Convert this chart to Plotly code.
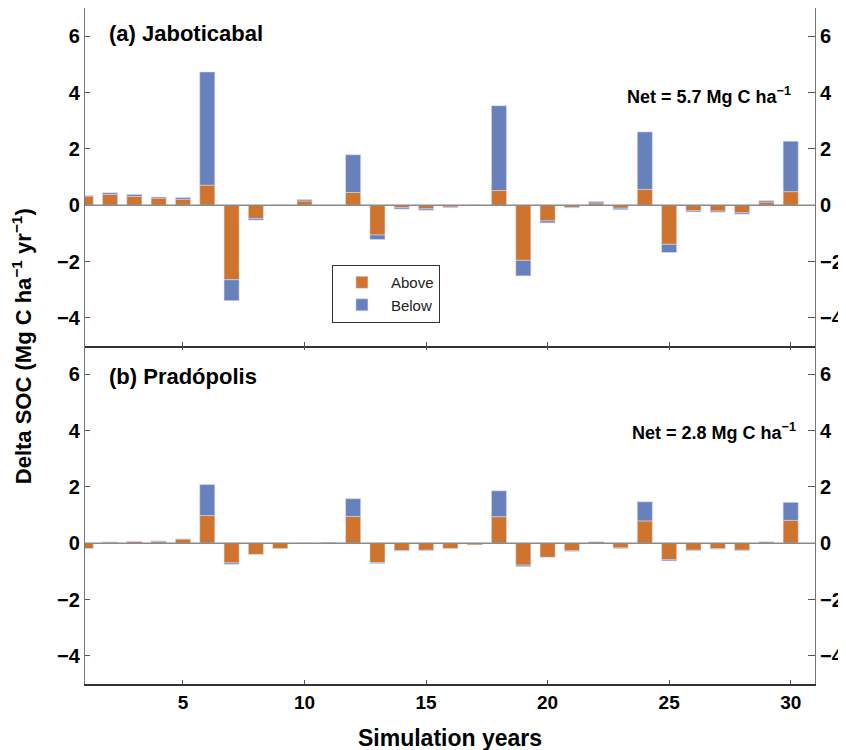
import plotly.graph_objects as go

years = list(range(1, 31))

# Panel (a) Jaboticabal
above_a = [0.32, 0.38, 0.31, 0.25, 0.21, 0.71, -2.65, -0.47, -0.02, 0.15,
           -0.03, 0.45, -1.06, -0.09, -0.13, -0.07, 0.0, 0.52, -1.96, -0.56,
           -0.08, 0.08, -0.11, 0.56, -1.39, -0.20, -0.21, -0.27, 0.11, 0.48]
below_a = [0.02, 0.06, 0.07, 0.04, 0.06, 4.02, -0.74, -0.06, 0.0, 0.05,
           0.0, 1.34, -0.16, -0.05, -0.05, -0.02, 0.0, 3.01, -0.55, -0.07,
           -0.02, 0.05, -0.05, 2.04, -0.29, -0.04, -0.04, -0.05, 0.05, 1.79]

# Panel (b) Pradópolis
above_b = [-0.19, 0.04, 0.06, 0.07, 0.15, 0.98, -0.70, -0.40, -0.19, 0.0,
           0.0, 0.95, -0.69, -0.26, -0.25, -0.19, -0.06, 0.94, -0.78, -0.50,
           -0.27, 0.05, -0.17, 0.79, -0.59, -0.25, -0.20, -0.25, 0.05, 0.81]
below_b = [-0.01, 0.0, 0.01, 0.01, 0.0, 1.10, -0.05, -0.01, 0.0, 0.0,
           0.02, 0.63, -0.03, -0.02, -0.02, 0.0, 0.0, 0.92, -0.05, 0.0,
           -0.02, 0.0, -0.02, 0.68, -0.04, -0.02, -0.01, -0.02, 0.0, 0.64]

ytick_vals = [-4, -2, 0, 2, 4, 6]
xtick_vals = [5, 10, 15, 20, 25, 30]

ORANGE = "#CF742E"
BLUE = "#6880BC"
FONT = "Liberation Sans, Arial, sans-serif"
EDGE = dict(color="rgba(215,225,245,0.9)", width=0.6)

fig = go.Figure()
fig.add_trace(go.Bar(x=years, y=above_a, name="Above", marker=dict(color=ORANGE, line=EDGE),
                     xaxis="x", yaxis="y", legendgroup="a"))
fig.add_trace(go.Bar(x=years, y=below_a, name="Below", marker=dict(color=BLUE, line=EDGE),
                     xaxis="x", yaxis="y", legendgroup="b"))
fig.add_trace(go.Bar(x=years, y=above_b, name="Above", marker=dict(color=ORANGE, line=EDGE),
                     xaxis="x2", yaxis="y2", showlegend=False, legendgroup="a"))
fig.add_trace(go.Bar(x=years, y=below_b, name="Below", marker=dict(color=BLUE, line=EDGE),
                     xaxis="x2", yaxis="y2", showlegend=False, legendgroup="b"))
# empty traces to activate the right-hand axes and the top ticks of panel (b)
fig.add_trace(go.Scatter(x=[], y=[], xaxis="x", yaxis="y3", showlegend=False, hoverinfo="skip"))
fig.add_trace(go.Scatter(x=[], y=[], xaxis="x2", yaxis="y4", showlegend=False, hoverinfo="skip"))
fig.add_trace(go.Scatter(x=[], y=[], xaxis="x3", yaxis="y2", showlegend=False, hoverinfo="skip"))

tickfont = dict(family=FONT, size=20, color="black", weight="bold")
split = 0.5

yax_common = dict(range=[-5, 7], tickvals=ytick_vals, ticks="inside",
                  tickcolor="#555", showline=True, linecolor="#777", linewidth=1.2,
                  showgrid=False, tickfont=tickfont, zeroline=False)
xax_common = dict(range=[0.97, 31.0], tickvals=xtick_vals, ticks="inside", ticklen=4,
                  tickcolor="#555", linecolor="#333", linewidth=1.5,
                  showgrid=False, zeroline=False)

# the page body adds an 8px offset, so the figure is 8px smaller on each axis
fig.update_layout(
    width=838, height=742,
    margin=dict(l=77, r=31, t=0, b=66, autoexpand=False),
    paper_bgcolor="white", plot_bgcolor="white",
    barmode="relative", bargap=0.38,
    font=dict(family=FONT, color="black"),
    xaxis=dict(**xax_common, domain=[0, 1], anchor="y", showticklabels=False,
               showline=True, mirror=True),
    xaxis2=dict(**xax_common, domain=[0, 1], anchor="y2", showline=True, mirror=False,
                tickfont=dict(family=FONT, size=19, color="black", weight="bold")),
    xaxis3=dict(**xax_common, domain=[0, 1], anchor="y2", overlaying="x2", side="top",
                showline=False, showticklabels=False),
    yaxis=dict(**yax_common, domain=[split, 1], anchor="x", ticklen=5),
    yaxis2=dict(**yax_common, domain=[0, split], anchor="x2", ticklen=5),
    yaxis3=dict(**yax_common, domain=[split, 1], anchor="x", overlaying="y", side="right", ticklen=7),
    yaxis4=dict(**yax_common, domain=[0, split], anchor="x2", overlaying="y2", side="right", ticklen=7),
    legend=dict(x=0.338, y=0.62, xanchor="left", yanchor="top", traceorder="normal",
                bgcolor="white", bordercolor="#333", borderwidth=1.2, itemwidth=48,
                font=dict(family=FONT, size=15, color="#222")),
    showlegend=True,
)

# zero lines
for yref, xref in [("y", "x"), ("y2", "x2")]:
    fig.add_shape(type="line", xref=f"{xref} domain", yref=yref, x0=0, x1=1, y0=0, y1=0,
                  line=dict(color="#8a8a8a", width=1.5), layer="above")

ann_font_big = dict(family=FONT, size=22, color="black", weight="bold")
ann_font_net = dict(family=FONT, size=18, color="black", weight="bold")
ann_font_title = dict(family=FONT, size=22, color="black", weight="bold")
fig.add_annotation(text="(a) Jaboticabal", xref="x domain", yref="y", x=0.03, y=6.1,
                   xanchor="left", yanchor="middle", showarrow=False, font=ann_font_big)
fig.add_annotation(text="(b) Pradópolis", xref="x2 domain", yref="y2", x=0.03, y=5.9,
                   xanchor="left", yanchor="middle", showarrow=False, font=ann_font_big)
fig.add_annotation(text="Net = 5.7 Mg C ha<sup>−1</sup>", xref="x domain", yref="y", x=0.97, y=3.9,
                   xanchor="right", yanchor="middle", showarrow=False, font=ann_font_net)
fig.add_annotation(text="Net = 2.8 Mg C ha<sup>−1</sup>", xref="x2 domain", yref="y2", x=0.977, y=3.97,
                   xanchor="right", yanchor="middle", showarrow=False, font=ann_font_net)
fig.add_annotation(text="Delta SOC (Mg C ha<sup>−1</sup> yr<sup>−1</sup>)", xref="paper", yref="paper",
                   x=-0.086, y=0.5, xanchor="center", yanchor="middle", textangle=-90,
                   showarrow=False, font=ann_font_title)
fig.add_annotation(text="Simulation years", xref="paper", yref="paper",
                   x=0.5, y=-0.08, xanchor="center", yanchor="middle",
                   showarrow=False, font=dict(family=FONT, size=23, color="black", weight="bold"))

fig.write_html("out.html")
